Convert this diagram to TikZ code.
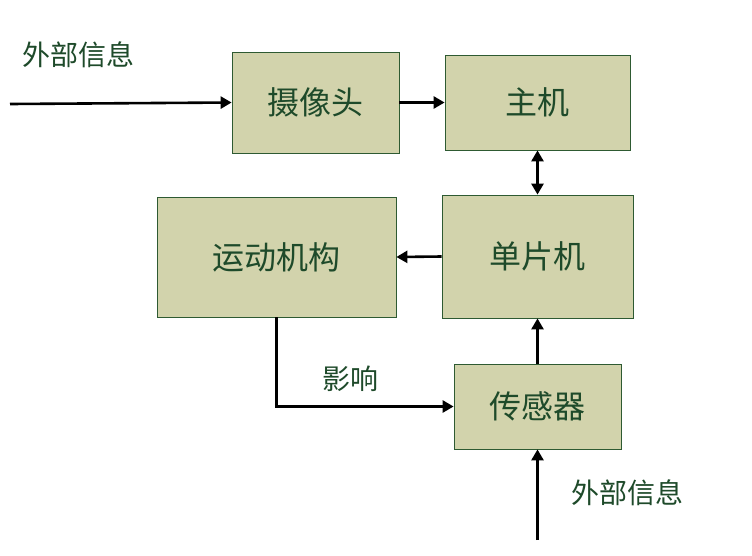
\documentclass[tikz,border=0pt]{standalone}
\usepackage{fontspec}
\newfontfamily\cjk{Noto Sans CJK SC}
\usetikzlibrary{arrows.meta}
\definecolor{boxfill}{HTML}{D2D3AC}
\definecolor{boxline}{HTML}{2E5A32}
\definecolor{txt}{HTML}{1E4A2A}
\begin{document}
\begin{tikzpicture}[x=1pt,y=-1pt,
  blk/.style={draw=boxline,fill=boxfill,line width=0.8pt,inner sep=0pt,
    font=\cjk\fontsize{32}{34}\selectfont,text=txt},
  lbl/.style={font=\cjk\fontsize{28}{30}\selectfont,text=txt,inner sep=0pt},
  arr/.style={line width=2.6pt,-{Triangle[length=11pt,width=12pt]}},
  darr/.style={line width=2.6pt,{Triangle[length=11pt,width=12pt]}-{Triangle[length=11pt,width=12pt]}}]
\useasboundingbox (0,0) rectangle (752,555);
\node[blk,minimum width=167pt,minimum height=101pt] (cam) at (315.5,102.5) {摄像头};
\node[blk,minimum width=185pt,minimum height=95pt] (host) at (537.5,102.5) {主机};
\node[blk,minimum width=239pt,minimum height=120pt] (motor) at (276.5,257) {运动机构};
\node[blk,minimum width=191pt,minimum height=123pt] (mcu) at (537.5,256.5) {单片机};
\node[blk,minimum width=167pt,minimum height=85pt] (sens) at (537.5,406.5) {传感器};
\node[lbl] (ext1) at (78,55) {外部信息};
\node[lbl] (ext2) at (627,493) {外部信息};
\node[lbl] (infl) at (350,379) {影响};
\coordinate (in1) at (10,104);
\coordinate (in2) at (537.5,540);
\coordinate (corner) at (276.5,406.5);
\draw[arr] (in1) -- (cam.west |- 0,102.5);
\draw[arr] (cam.east) -- (host.west);
\draw[darr] (host.south) -- (mcu.north);
\draw[arr] (mcu.west) -- (motor.east);
\draw[arr] (motor.south) -- (corner) -- (sens.west);
\draw[arr] (sens.north) -- (mcu.south);
\draw[arr] (in2) -- (sens.south);
\end{tikzpicture}
\end{document}
